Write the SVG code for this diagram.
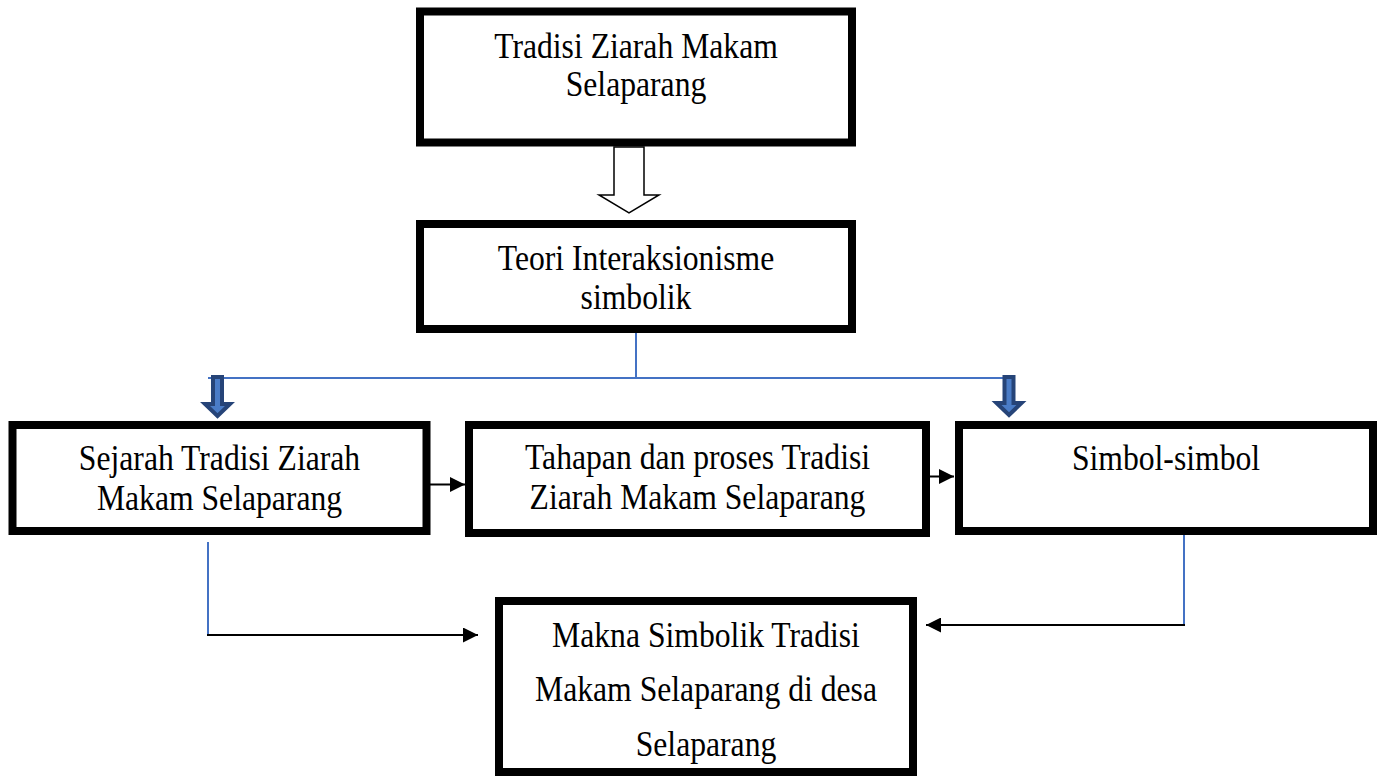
<svg xmlns="http://www.w3.org/2000/svg" width="1379" height="779" viewBox="0 0 1379 779">
<style>
.box{fill:#fff;stroke:#000;stroke-width:8}
.lbl{font-family:"Liberation Serif","Times New Roman",serif;font-size:35px;fill:#000;text-anchor:middle}
.blue{stroke:#4472C4;stroke-width:2;fill:none}
.blk{stroke:#000;stroke-width:2;fill:none}
.hollow{fill:#fff;stroke:#000;stroke-width:1.5;stroke-linejoin:miter}
.block{fill:#4A7CC7;stroke:#264478;stroke-width:4;stroke-linejoin:miter}
</style>
<defs>
<marker id="ah" viewBox="0 0 15 15" refX="15" refY="7.5" markerWidth="15" markerHeight="15" markerUnits="userSpaceOnUse" orient="auto">
<path d="M0,0 L15,7.5 L0,15 Z" fill="#000"/>
</marker>
</defs>
<g id="connectors">
<polygon class="hollow" points="614,147 644,147 644,195 659,195 629,213 599,195 614,195"/>
<line class="blue" x1="636" y1="333" x2="636" y2="378"/>
<line class="blue" x1="208" y1="378" x2="1007" y2="378"/>
<polygon class="block" points="213,377 222,377 222,404 230,404 217.5,416 205,404 213,404"/>
<polygon class="block" points="1004.5,377 1013.5,377 1013.5,403 1021.5,403 1009,415 996.5,403 1004.5,403"/>
<line class="blk" x1="420" y1="484.5" x2="465" y2="484.5" marker-end="url(#ah)"/>
<line class="blk" x1="913" y1="476.5" x2="954" y2="476.5" marker-end="url(#ah)"/>
<polyline class="blue" points="208,542 208,635"/>
<line class="blk" x1="207" y1="635" x2="478" y2="635" marker-end="url(#ah)"/>
<polyline class="blue" points="1184,532 1184,625"/>
<line class="blk" x1="1185" y1="625" x2="926" y2="625" marker-end="url(#ah)"/>
</g>
<g id="node-tradisi">
<rect class="box" x="420" y="11.5" width="432" height="131"/>
<g transform="translate(636,0) scale(0.905,1)"><text class="lbl" x="0" y="58">Tradisi Ziarah Makam</text><text class="lbl" x="0" y="96">Selaparang</text></g>
</g>
<g id="node-teori">
<rect class="box" x="420" y="224" width="432" height="105"/>
<g transform="translate(636,0) scale(0.905,1)"><text class="lbl" x="0" y="270">Teori Interaksionisme</text><text class="lbl" x="0" y="309">simbolik</text></g>
</g>
<g id="node-sejarah">
<rect class="box" x="12.5" y="425" width="414" height="106"/>
<g transform="translate(219.5,0) scale(0.905,1)"><text class="lbl" x="0" y="470">Sejarah Tradisi Ziarah</text><text class="lbl" x="0" y="510">Makam Selaparang</text></g>
</g>
<g id="node-tahapan">
<rect class="box" x="469" y="425" width="457" height="108"/>
<g transform="translate(697.5,0) scale(0.905,1)"><text class="lbl" x="0" y="469">Tahapan dan proses Tradisi</text><text class="lbl" x="0" y="509">Ziarah Makam Selaparang</text></g>
</g>
<g id="node-simbol">
<rect class="box" x="959" y="425" width="414" height="106"/>
<g transform="translate(1166,0) scale(0.905,1)"><text class="lbl" x="0" y="470">Simbol-simbol</text></g>
</g>
<g id="node-makna">
<rect class="box" x="499" y="601" width="414" height="171"/>
<g transform="translate(706,0) scale(0.905,1)"><text class="lbl" x="0" y="647">Makna Simbolik Tradisi</text><text class="lbl" x="0" y="701">Makam Selaparang di desa</text><text class="lbl" x="0" y="756">Selaparang</text></g>
</g>
</svg>
